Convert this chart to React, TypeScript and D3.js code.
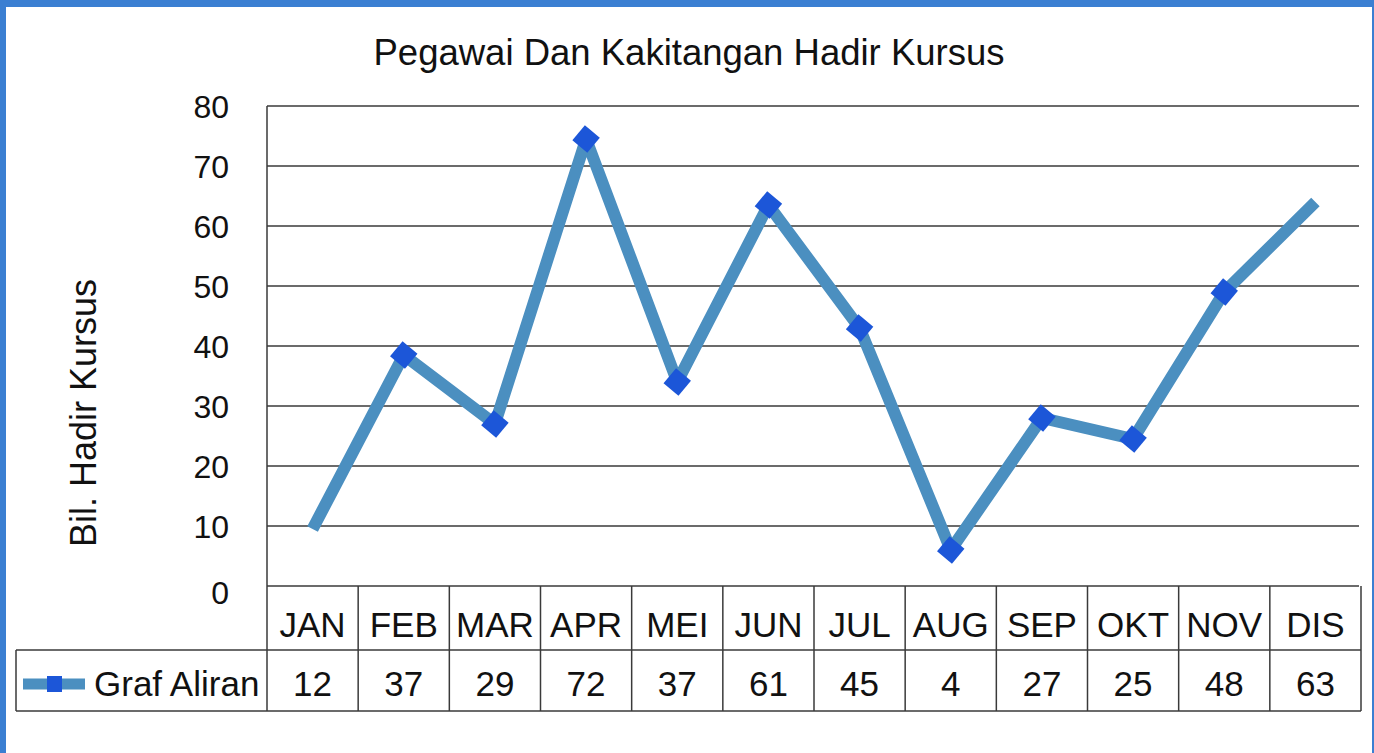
import * as d3 from "d3";

const months = ["JAN", "FEB", "MAR", "APR", "MEI", "JUN", "JUL", "AUG", "SEP", "OKT", "NOV", "DIS"];
// values printed in the data table
const tableValues = [12, 37, 29, 72, 37, 61, 45, 4, 27, 25, 48, 63];
// values as the line is actually drawn in the picture
const plottedValues = [9.5, 38.5, 27, 74.5, 34, 63.5, 43, 6, 28, 24.5, 49, 64];
// first and last points are drawn without a marker
const markerShown = [false, true, true, true, true, true, true, true, true, true, true, false];
const yTicks = [0, 10, 20, 30, 40, 50, 60, 70, 80];

const seriesName = "Graf Aliran";
const title = "Pegawai Dan Kakitangan Hadir Kursus";
const yTitle = "Bil. Hadir Kursus";

const W = 1374;
const H = 753;
const PLOT = { left: 267, right: 1361, top: 106, bottom: 586 };
const TABLE = { left: 16, rowMid: 650, bottom: 711 };

const FONT = "'Liberation Sans', Arial, sans-serif";
const LINE_COLOR = "#4b8fc0";
const MARKER_COLOR = "#1c56d8";
const GRID = "#3a3a3a";

export default function App() {
  const x = d3.scaleBand<string>().domain(months).range([PLOT.left, PLOT.right]).padding(0);
  const y = d3.scaleLinear().domain([0, 80]).range([PLOT.bottom, PLOT.top]);
  const cx = (m: string) => (x(m) ?? 0) + x.bandwidth() / 2;

  const line = d3
    .line<number>()
    .x((_, i) => cx(months[i]))
    .y((d) => y(d));

  const marker = d3.symbol(d3.symbolSquare, 380)();

  return (
    <svg
      width={W}
      height={H}
      style={{ position: "absolute", left: 0, top: 0 }}
      fontFamily={FONT}
    >
      {/* blue frame */}
      <rect x={0} y={0} width={W} height={H} fill="#3b7fd2" />
      <rect x={6} y={7} width={W - 8} height={H - 7} fill="#ffffff" />

      {/* title */}
      <text x={689} y={65} textAnchor="middle" fontSize={36.5} fill="#111">
        {title}
      </text>

      {/* y axis title */}
      <text
        transform={`translate(96,${413}) rotate(-90)`}
        textAnchor="middle"
        fontSize={36}
        fill="#111"
      >
        {yTitle}
      </text>

      {/* grid lines */}
      {yTicks.map((t) => (
        <line
          key={t}
          x1={PLOT.left}
          x2={PLOT.right - 2}
          y1={y(t)}
          y2={y(t)}
          stroke={GRID}
          strokeWidth={1.5}
        />
      ))}

      {/* y tick labels */}
      {yTicks.map((t) => (
        <text
          key={t}
          x={229}
          y={y(t) + (t === 0 ? 18 : 12)}
          textAnchor="end"
          fontSize={32}
          fill="#111"
        >
          {t}
        </text>
      ))}

      {/* y axis line */}
      <line x1={PLOT.left} x2={PLOT.left} y1={PLOT.top} y2={TABLE.bottom} stroke={GRID} strokeWidth={1.5} />

      {/* data table */}
      <line x1={TABLE.left} x2={PLOT.right} y1={TABLE.rowMid} y2={TABLE.rowMid} stroke={GRID} strokeWidth={1.5} />
      <line x1={TABLE.left} x2={PLOT.right} y1={TABLE.bottom} y2={TABLE.bottom} stroke={GRID} strokeWidth={1.5} />
      <line x1={TABLE.left} x2={TABLE.left} y1={TABLE.rowMid} y2={TABLE.bottom} stroke={GRID} strokeWidth={1.5} />
      <line x1={PLOT.right} x2={PLOT.right} y1={PLOT.bottom} y2={TABLE.bottom} stroke={GRID} strokeWidth={1.5} />
      {months.slice(1).map((m) => (
        <line
          key={m}
          x1={x(m)}
          x2={x(m)}
          y1={PLOT.bottom}
          y2={TABLE.bottom}
          stroke={GRID}
          strokeWidth={1.5}
        />
      ))}
      {months.map((m) => (
        <text key={m} x={cx(m)} y={637} textAnchor="middle" fontSize={35} fill="#111">
          {m}
        </text>
      ))}
      {tableValues.map((v, i) => (
        <text key={i} x={cx(months[i])} y={696} textAnchor="middle" fontSize={35} fill="#111">
          {v}
        </text>
      ))}

      {/* legend key */}
      <line x1={23} x2={85} y1={684} y2={684} stroke={LINE_COLOR} strokeWidth={11} />
      <rect x={47} y={676} width={15} height={16} fill={MARKER_COLOR} />
      <text x={94} y={696} fontSize={35} fill="#111">
        {seriesName}
      </text>

      {/* series line */}
      <path d={line(plottedValues) ?? ""} fill="none" stroke={LINE_COLOR} strokeWidth={12} strokeLinejoin="round" />
      {plottedValues.map((v, i) =>
        markerShown[i] ? (
          <path
            key={i}
            d={marker ?? ""}
            transform={`translate(${cx(months[i])},${y(v)}) rotate(40)`}
            fill={MARKER_COLOR}
          />
        ) : null
      )}
    </svg>
  );
}
